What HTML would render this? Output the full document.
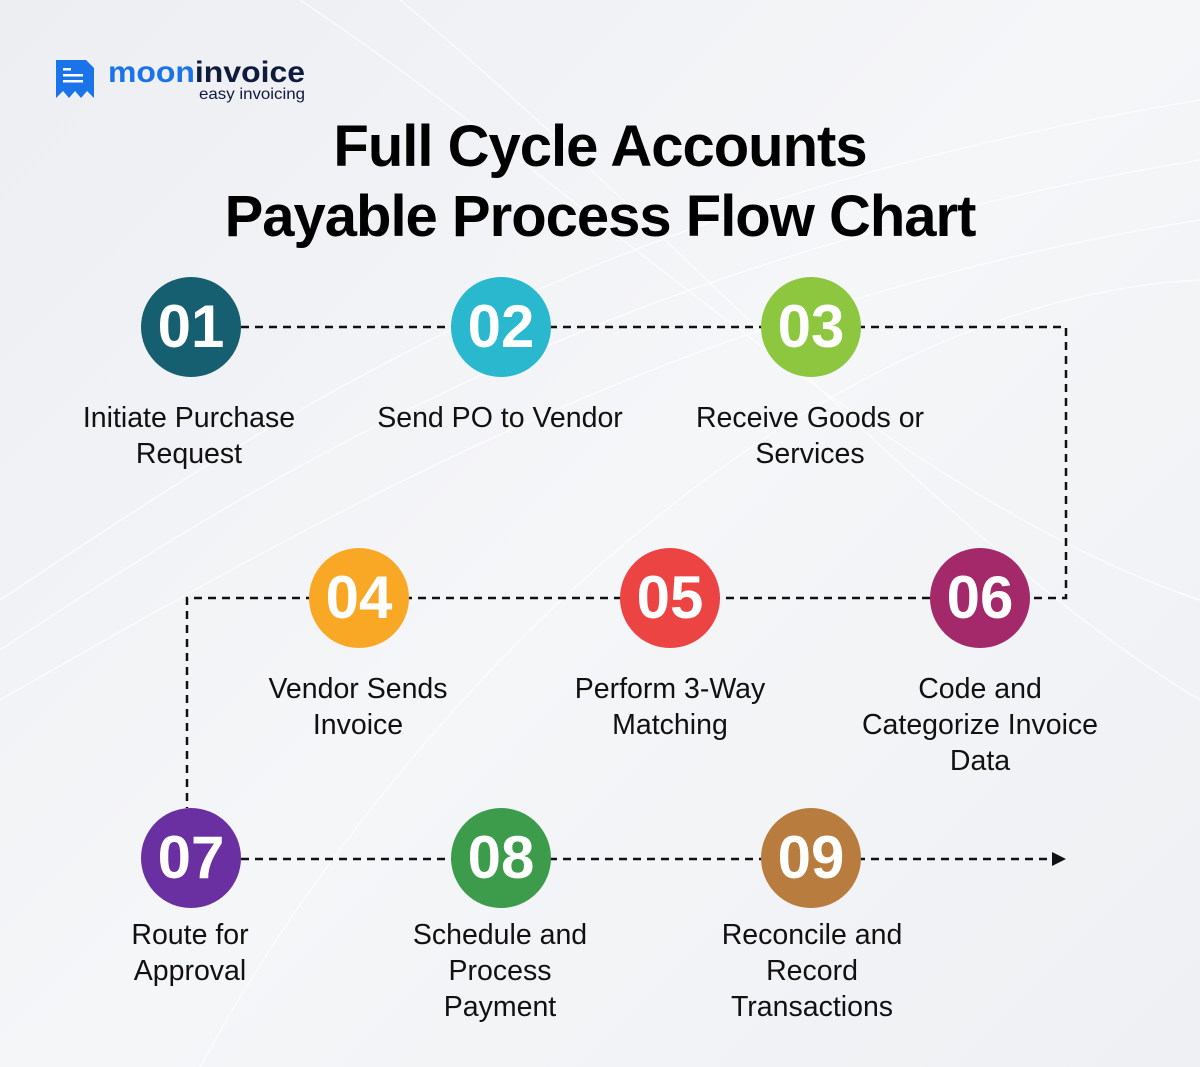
<!DOCTYPE html>
<html><head><style>
body{margin:0;width:1200px;height:1067px;overflow:hidden;background:linear-gradient(135deg,#eceef2,#f5f6f8 50%,#eef0f3);font-family:"Liberation Sans",sans-serif;position:relative}
.t{position:absolute;text-align:center;font-size:28.5px;line-height:36px;color:#111;width:340px;margin-left:-170px;letter-spacing:0}
.c{position:absolute;width:100px;height:100px;border-radius:50%;margin:-50px 0 0 -50px;color:#fff;font-weight:bold;font-size:60px;line-height:100px;text-align:center;letter-spacing:0}
h1{position:absolute;top:112px;left:0;width:1200px;margin:0;text-align:center;font-size:58px;line-height:70px;color:#000;letter-spacing:-1px}
</style></head><body>
<svg width="1200" height="1067" style="position:absolute;left:0;top:0">
<g stroke="#fff" stroke-width="1.5" fill="none" opacity="0.7">
<path d="M0 600 C300 400 600 200 1200 100"/><path d="M0 650 C300 450 650 250 1200 160"/><path d="M0 700 C350 500 700 300 1200 220"/><path d="M200 1067 C400 700 800 300 1200 280"/><path d="M300 0 C600 200 900 500 1200 600"/><path d="M400 0 C700 250 950 550 1200 700"/>
</g>
<g stroke="#111" stroke-width="2.5" fill="none" stroke-dasharray="8 6">
<path d="M241 327 H1066 V598 H187 V808"/>
<path d="M241 859 H1052"/>
</g>
<polygon points="1052,852 1066,859 1052,866" fill="#111"/>
<g>
<path d="M56 60 h30 l8 8 v30 l-7 -7 l-6 7 l-6 -7 l-6 7 l-6 -7 l-7 7z" fill="#1a73e8"/>
<rect x="63" y="68" width="8" height="2.5" fill="#fff"/><rect x="63" y="74" width="20" height="2.5" fill="#fff"/><rect x="63" y="80" width="20" height="2.5" fill="#fff"/>
</g>
<text x="108" y="82" font-family="Liberation Sans" font-weight="bold" font-size="30" fill="#1a73e8" textLength="197" lengthAdjust="spacingAndGlyphs">moon<tspan fill="#0f1a3d">invoice</tspan></text>
<text x="305" y="99" text-anchor="end" font-family="Liberation Sans" font-size="16" fill="#0f1a3d" textLength="106" lengthAdjust="spacingAndGlyphs">easy invoicing</text>
</svg>
<h1>Full Cycle Accounts<br>Payable Process Flow Chart</h1>
<div class="c" style="left:191px;top:327px;background:#155f70">01</div>
<div class="c" style="left:501px;top:327px;background:#2ab8cf">02</div>
<div class="c" style="left:811px;top:327px;background:#8dc63f">03</div>
<div class="c" style="left:359px;top:598px;background:#f9a825">04</div>
<div class="c" style="left:670px;top:598px;background:#ec4343">05</div>
<div class="c" style="left:980px;top:598px;background:#a3296b">06</div>
<div class="c" style="left:191px;top:858px;background:#6a2fa0">07</div>
<div class="c" style="left:501px;top:858px;background:#3d9c4c">08</div>
<div class="c" style="left:811px;top:858px;background:#b87d3e">09</div>
<div class="t" style="left:189px;top:400px">Initiate Purchase<br>Request</div>
<div class="t" style="left:500px;top:400px">Send PO to Vendor</div>
<div class="t" style="left:810px;top:400px">Receive Goods or<br>Services</div>
<div class="t" style="left:358px;top:671px">Vendor Sends<br>Invoice</div>
<div class="t" style="left:670px;top:671px">Perform 3-Way<br>Matching</div>
<div class="t" style="left:980px;top:671px">Code and<br>Categorize Invoice<br>Data</div>
<div class="t" style="left:190px;top:917px">Route for<br>Approval</div>
<div class="t" style="left:500px;top:917px">Schedule and<br>Process<br>Payment</div>
<div class="t" style="left:812px;top:917px">Reconcile and<br>Record<br>Transactions</div>
</body></html>
